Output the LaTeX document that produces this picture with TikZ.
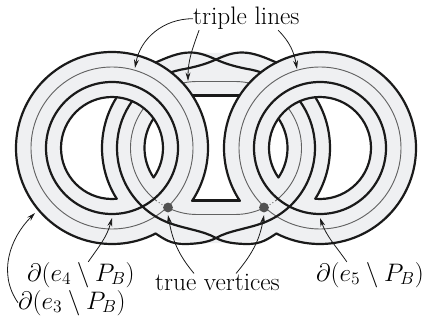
\documentclass[tikz,border=0pt]{standalone}
\usepackage{tikz}
\usetikzlibrary{arrows.meta, positioning}
\definecolor{bandfill}{HTML}{EFF0F2}
\definecolor{lineink}{HTML}{1A1A1A}
\tikzset{
    % Ribbon surface
    band/.style={fill=bandfill},
    % Boundary strands
    strand/.style={draw=lineink, line width=1.8pt, line cap=round},
    % Triple lines
    triple line/.style={draw=black!62, line width=0.75pt},
    % True vertices
    true vertex/.style={circle, fill=black!68, inner sep=0pt, minimum size=8pt},
    % Labels
    tag/.style={inner sep=0pt, anchor=base west, font=\huge},
    % Leader arrows
    leader/.style={draw=lineink, line width=0.65pt, -{Stealth[length=7pt,width=4pt]}}
}
\newcommand{\stadium}[1]{(-19,#1) -- (19,#1) arc[start angle=90,end angle=-90,radius=#1] -- (-19,-#1) arc[start angle=270,end angle=90,radius=#1] -- cycle}

\begin{document}
\begin{tikzpicture}[x=0.82pt, y=0.82pt]
    \useasboundingbox (-216,-172) rectangle (208,148);

    % --- Ribbon surfaces ---
    \fill[band, even odd rule] \stadium{95} \stadium{52.5};
    \foreach \s in {1,-1} {
        \fill[band, even odd rule, xscale=\s] (-104,0) circle[radius=96] (-104,0) circle[radius=51];
    }

    % --- Triple lines and strands, left side and its mirror image ---
    \foreach \s in {1,-1} {
    \begin{scope}[xscale=\s]
        % Triple lines
        \draw[triple line] (-104,0) circle[radius=81];
        \draw[triple line] (-19,0) ++(143:66.5) arc[start angle=143,end angle=232,radius=66.5];
        \draw[triple line, dotted] (-19,0) ++(232:66.5) arc[start angle=232,end angle=243,radius=66.5];
        \draw[triple line] (-19,0) ++(243:66.5) arc[start angle=243,end angle=270,radius=66.5] -- (0,-66.5);
        \draw[triple line] (-19,0) ++(102.4:66.5) arc[start angle=102.4,end angle=90,radius=66.5] -- (0,66.5);

        % Circles of the two side ribbons
        \draw[strand] (-104,0) circle[radius=66];
        \draw[strand] (-104,0) ++(-63:96) arc[start angle=-63,end angle=-393.5,radius=96];
        \draw[strand] (-104,0) ++(-84.7:51) arc[start angle=-84.7,end angle=-395.3,radius=51];

        % Middle ribbon
        \draw[strand] (-19,0) ++(147.7:95) arc[start angle=147.7,end angle=212.3,radius=95];
        \draw[strand] (-19,0) ++(145.8:52.5) arc[start angle=145.8,end angle=214.2,radius=52.5];
        \draw[strand] (-23.6,52.5) -- (0,52.5);
        \draw[strand] (-23.6,-52.5) -- (0,-52.5);

        % Twisted strands, bottom and top
        \draw[strand] (-19,0) ++(144.2:80) arc[start angle=144.2,end angle=250,radius=80]
            .. controls (-30,-81) and (-12,-83) .. (0,-90)
            .. controls (8,-94.5) and (20,-96) .. (32,-96)
            .. controls (45,-96) and (52,-91) .. (60.4,-85.5);
        \draw[strand] (-19,0) ++(109:80) arc[start angle=109,end angle=102,radius=80]
            .. controls (-20,81) and (-10,84) .. (0,88.5)
            .. controls (8,92) and (16,95.5) .. (26,95.5)
            .. controls (38,95.5) and (50,90) .. (60.4,85.5);
    \end{scope}
    }

    % --- True vertices ---
    \node[true vertex] (vertexL) at (-48,-59.5) {};
    \node[true vertex] (vertexR) at (48,-59.5) {};

    % --- Labels ---
    \node[tag] (triple) at (-23,123) {triple lines};
    \node[tag] (true) at (-61,-142) {true vertices};
    \node[tag] (e4) at (-189,-133) {$\partial(e_4\setminus P_B)$};
    \node[tag] (e3) at (-198,-161) {$\partial(e_3\setminus P_B)$};
    \node[tag] (e5) at (100,-133) {$\partial(e_5\setminus P_B)$};

    % --- Arrow ends ---
    \coordinate (tipA) at (-81,80);
    \coordinate (tipB) at (-28,67);
    \coordinate (tipC) at (81,79);
    \coordinate (tipD) at (-48,-67);
    \coordinate (tipE) at (48,-67);
    \coordinate (tipF) at (-104,-70);
    \coordinate (tipG) at (-181,-65);
    \coordinate (tipH) at (104,-70);

    % --- Leaders ---
    \draw[leader] (triple.west) to[out=180,in=80] (tipA);
    \draw[leader] ([xshift=5pt]triple.south west) to[out=-110,in=90] (tipB);
    \draw[leader] ([xshift=26pt]triple.south) to[out=-45,in=100] (tipC);
    \draw[leader] ([xshift=32pt]true.north west) to[out=130,in=-80] (tipD);
    \draw[leader] ([xshift=-36pt]true.north east) to[out=50,in=-100] (tipE);
    \draw[leader] ([xshift=6pt]e4.north) to[out=55,in=-105] (tipF);
    \draw[leader] (e3.west) to[out=125,in=225] (tipG);
    \draw[leader] ([xshift=-19pt]e5.north) to[out=125,in=-70] (tipH);
\end{tikzpicture}
\end{document}
